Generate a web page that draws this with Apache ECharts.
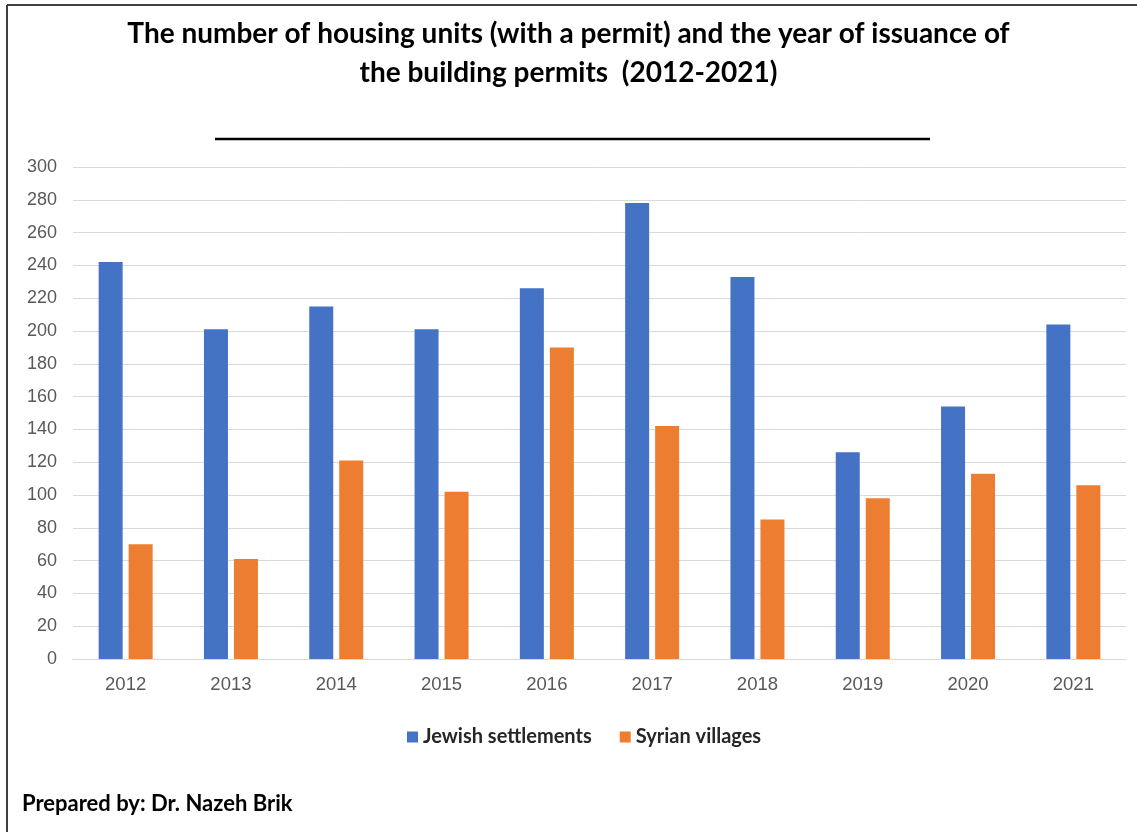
<!DOCTYPE html>
<html><head><meta charset="utf-8">
<script src="https://cdn.jsdelivr.net/npm/echarts@6/dist/echarts.min.js"></script>
<style>html,body{margin:0;padding:0;background:#fff}#c{width:1137px;height:832px}</style>
</head><body><div id="c"></div>
<script>
const years = ['2012','2013','2014','2015','2016','2017','2018','2019','2020','2021'];
const jewish = [242, 201, 215, 201, 226, 278, 233, 126, 154, 204];
const syrian = [70, 61, 121, 102, 190, 142, 85, 98, 113, 106];
const seriesNames = ['Jewish settlements', 'Syrian villages'];
const titleText = 'The number of housing units (with a permit) and the year of issuance of\nthe building permits  (2012-2021)';
const credit = 'Prepared by: Dr. Nazeh Brik';

const chart = echarts.init(document.getElementById('c'));
chart.setOption({
  animation: false,
  backgroundColor: '#fff',
  title: {
    text: titleText, left: 'center', top: 9,
    textStyle: { fontFamily: 'Lato', fontWeight: 'bold', fontSize: 28, color: '#000', lineHeight: 39 }
  },
  legend: {
    data: seriesNames, bottom: 80, left: 402,
    itemWidth: 11, itemHeight: 11, itemGap: 28,
    icon: 'rect',
    textStyle: { fontFamily: 'Lato', fontWeight: 'bold', fontSize: 20, color: '#262626' }
  },
  grid: { left: 73, right: 11, top: 167, bottom: 173 },
  xAxis: {
    type: 'category', data: years,
    axisTick: { show: false },
    axisLine: { lineStyle: { color: '#d9d9d9', width: 1 } },
    axisLabel: { color: '#595959', fontSize: 18.5, fontFamily: 'Liberation Sans', margin: 16 }
  },
  yAxis: {
    type: 'value', min: 0, max: 300, interval: 20,
    axisLine: { show: false }, axisTick: { show: false },
    splitLine: { lineStyle: { color: '#d9d9d9', width: 1 } },
    axisLabel: { color: '#595959', fontSize: 18, fontFamily: 'Liberation Sans', margin: 16 }
  },
  series: [
    { name: seriesNames[0], type: 'bar', data: jewish, barWidth: 24, barGap: '25%',
      itemStyle: { color: '#4472C4' } },
    { name: seriesNames[1], type: 'bar', data: syrian, barWidth: 24, barGap: '25%',
      itemStyle: { color: '#ED7D31' } }
  ],
  graphic: [
    { type: 'line', shape: { x1: 215, y1: 139, x2: 930, y2: 139 }, style: { stroke: '#000', lineWidth: 2.5 } },
    { type: 'line', shape: { x1: 7, y1: 5, x2: 1137, y2: 5 }, style: { stroke: '#404040', lineWidth: 2 } },
    { type: 'line', shape: { x1: 7, y1: 5, x2: 7, y2: 832 }, style: { stroke: '#404040', lineWidth: 2 } },
    { type: 'text', left: 22, top: 793, style: { text: credit, font: 'bold 22px Lato', fill: '#000' } }
  ]
});
</script></body></html>
